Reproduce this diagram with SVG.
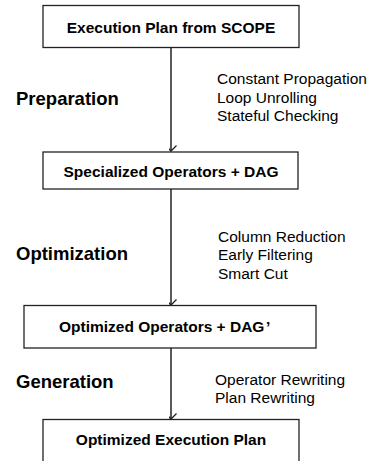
<svg xmlns="http://www.w3.org/2000/svg" width="370" height="461" viewBox="0 0 370 461">
<style>
.box{fill:#fff;stroke:#222;stroke-width:1.3}
.bt{font-family:"Liberation Sans",Arial,sans-serif;font-weight:bold;font-size:15.5px;fill:#000;text-anchor:middle}
.st{font-family:"Liberation Sans",Arial,sans-serif;font-weight:bold;font-size:18.5px;fill:#000}
.nt{font-family:"Liberation Sans",Arial,sans-serif;font-size:15.5px;fill:#000}
.ln{stroke:#222;stroke-width:1.5;fill:none}
</style>
<defs>
<marker id="ah" viewBox="-7 -8 14 10" refX="0" refY="0" markerWidth="14" markerHeight="10" markerUnits="userSpaceOnUse" orient="auto-start-reverse">
<path d="M-5.5,-5.5 L0,0 L5.5,-5.5" transform="rotate(-90)" fill="none" stroke="#222" stroke-width="1.3"/>
</marker>
</defs>
<rect width="370" height="461" fill="#fff"/>
<g id="connectors">
<line class="ln" x1="171" y1="47.5" x2="171" y2="151" marker-end="url(#ah)"/>
<line class="ln" x1="171" y1="189" x2="171" y2="305" marker-end="url(#ah)"/>
<line class="ln" x1="171" y1="348" x2="171" y2="419" marker-end="url(#ah)"/>
</g>
<g id="node-execution-plan">
<rect class="box" x="43" y="5.5" width="256" height="42"/>
<text class="bt" x="171" y="32.5">Execution Plan from SCOPE</text>
</g>
<g id="node-specialized">
<rect class="box" x="43" y="152" width="255" height="37"/>
<text class="bt" x="171" y="177">Specialized Operators + DAG</text>
</g>
<g id="node-optimized-ops">
<rect class="box" x="24" y="305.5" width="292" height="42.5"/>
<text class="bt" x="59" y="331.5" style="text-anchor:start">Optimized Operators + DAG<tspan x="266">’</tspan></text>
</g>
<g id="node-optimized-plan">
<rect class="box" x="43" y="419.5" width="256" height="50"/>
<text class="bt" x="171" y="445">Optimized Execution Plan</text>
</g>
<g id="labels">
<text class="st" x="16" y="105">Preparation</text>
<text class="nt" x="217" y="84">Constant Propagation</text>
<text class="nt" x="217" y="102.5">Loop Unrolling</text>
<text class="nt" x="217" y="121">Stateful Checking</text>
<text class="st" x="16" y="260">Optimization</text>
<text class="nt" x="218" y="241.5">Column Reduction</text>
<text class="nt" x="218" y="260">Early Filtering</text>
<text class="nt" x="218" y="278.5">Smart Cut</text>
<text class="st" x="16" y="388">Generation</text>
<text class="nt" x="215" y="385">Operator Rewriting</text>
<text class="nt" x="215" y="403">Plan Rewriting</text>
</g>
</svg>
